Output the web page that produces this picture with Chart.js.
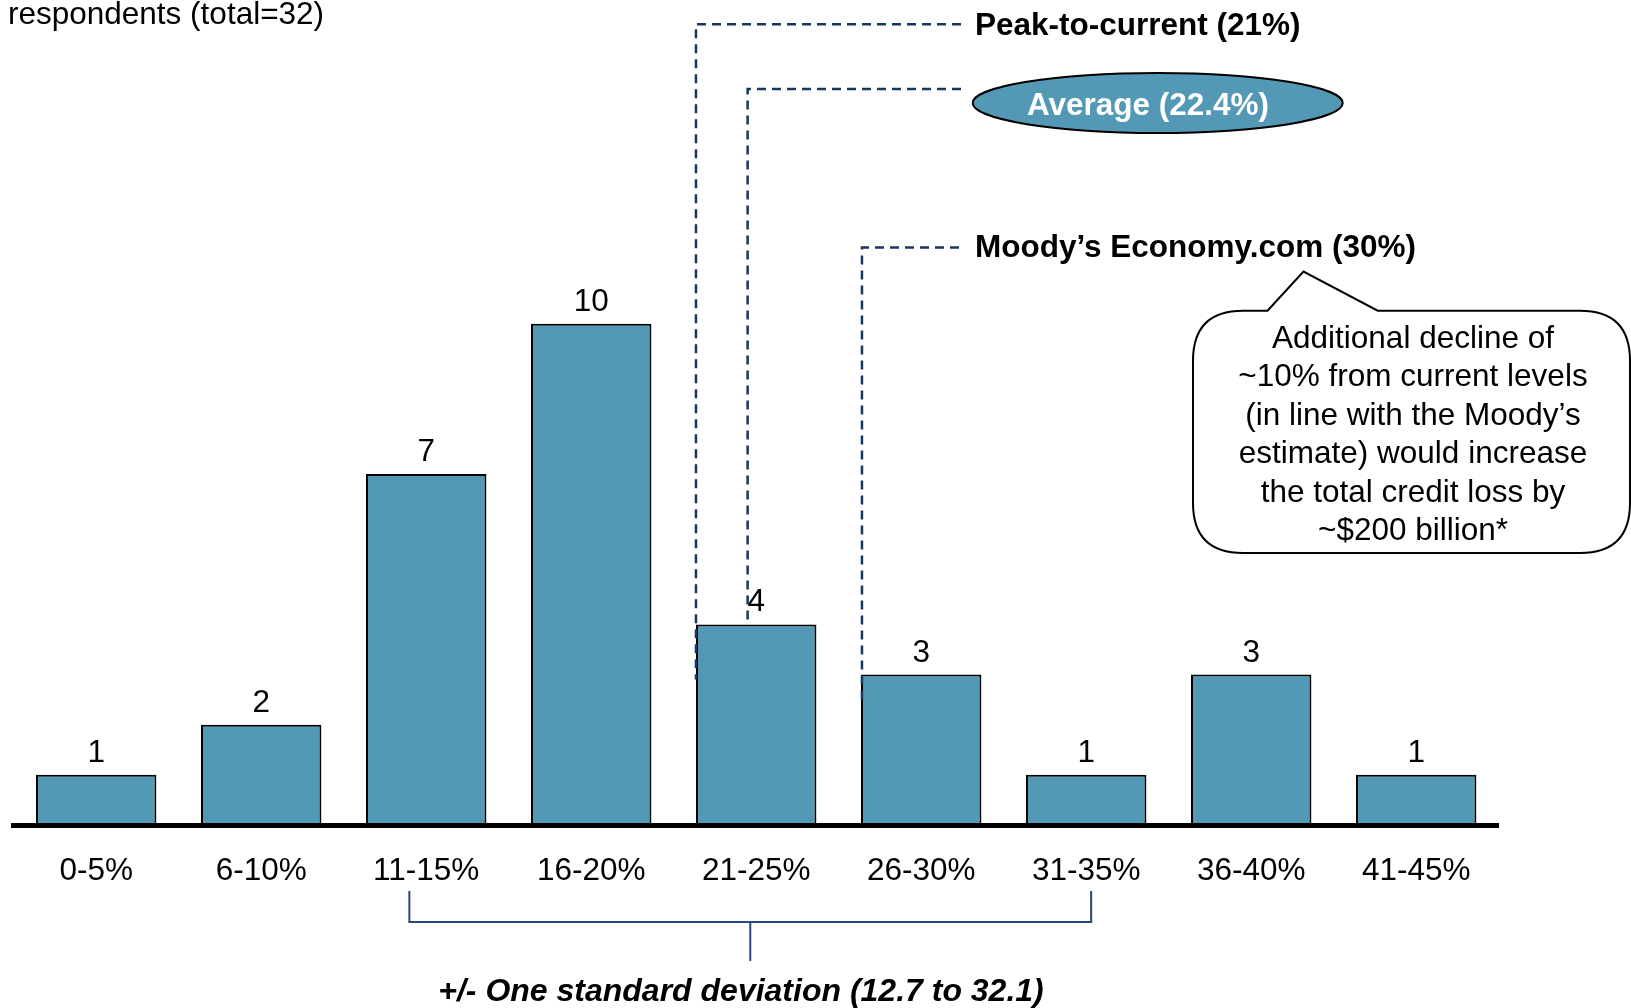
<!DOCTYPE html>
<html>
<head>
<meta charset="utf-8">
<title>Expected decline distribution</title>
<script src="https://cdn.jsdelivr.net/npm/chart.js@4.4.1/dist/chart.umd.min.js"></script>
<style>
  html, body { margin: 0; padding: 0; background: #fff; }
  #wrap { width: 1631px; height: 1008px; }
</style>
</head>
<body>
<div id="wrap"><canvas id="declineChart" width="1631" height="1008"></canvas></div>
<script>
// survey buckets and number of respondents per bucket
const ranges = ['0-5%', '6-10%', '11-15%', '16-20%', '21-25%', '26-30%', '31-35%', '36-40%', '41-45%'];
const respondents = [1, 2, 7, 10, 4, 3, 1, 3, 1];
const yMax = 16;

// reference lines, x given as position on the category axis
const markerLabels = ['Peak-to-current (21%)', 'Average (22.4%)', 'Moody\u2019s Economy.com (30%)'];
const markerPos = [3.635, 3.948, 4.641];
const markerStop = [2.9, 4, 2.45];   // where each leader line ends, in respondents

const stdDevLabel = '+/- One standard deviation (12.7 to 32.1)';
const stdDevSpan = [1.898, 6.03];

const noteLines = [
    'Additional decline of',
    '~10% from current levels',
    '(in line with the Moody\u2019s',
    'estimate) would increase',
    'the total credit loss by',
    '~$200 billion*'
];

const BAR_BLUE = '#5399b6';
const NAVY = '#17375e';
const BRACKET = '#26467e';
const FONT = '"Liberation Sans", Arial, Helvetica, sans-serif';

Chart.defaults.font.family = FONT;
Chart.defaults.color = '#000';

const annotations = {
    id: 'annotations',
    afterDatasetsDraw(chart) {
        // counts above bars
        const ctx = chart.ctx;
        const meta = chart.getDatasetMeta(0);
        ctx.save();
        ctx.font = '31.5px ' + FONT;
        ctx.fillStyle = '#000';
        ctx.textAlign = 'center';
        ctx.textBaseline = 'alphabetic';
        meta.data.forEach((bar, i) => {
            ctx.fillText(String(respondents[i]), bar.x, bar.y - 13);
        });
        ctx.restore();
    },
    afterDraw(chart) {
        const { ctx, scales: { x, y } } = chart;
        ctx.save();

        // axis caption in the corner
        ctx.font = '31.5px ' + FONT;
        ctx.fillStyle = '#000';
        ctx.textBaseline = 'middle';
        ctx.textAlign = 'left';
        ctx.fillText('respondents (total=32)', 8, 15);

        // dashed leaders
        const leaderY = [24.3, 89, 247.6];
        const leaderEnd = [961, 961, 959];
        ctx.strokeStyle = NAVY;
        ctx.lineWidth = 2.5;
        ctx.setLineDash([9, 6]);
        markerPos.forEach((p, i) => {
            const px = x.getPixelForValue(p);
            ctx.beginPath();
            ctx.moveTo(leaderEnd[i], leaderY[i]);
            ctx.lineTo(px, leaderY[i]);
            ctx.lineTo(px, y.getPixelForValue(markerStop[i]));
            ctx.stroke();
        });
        ctx.setLineDash([]);

        // average badge
        ctx.beginPath();
        ctx.ellipse(1157.7, 103, 185, 30, 0, 0, Math.PI * 2);
        ctx.fillStyle = BAR_BLUE;
        ctx.fill();
        ctx.lineWidth = 2;
        ctx.strokeStyle = '#000';
        ctx.stroke();

        ctx.font = 'bold 31.5px ' + FONT;
        ctx.textBaseline = 'middle';
        ctx.fillStyle = '#000';
        ctx.textAlign = 'left';
        ctx.fillText(markerLabels[0], 975, 26.5);
        ctx.fillText(markerLabels[2], 975, 248.5);
        ctx.fillStyle = '#fff';
        ctx.textAlign = 'center';
        ctx.fillText(markerLabels[1], 1148, 106);

        // speech bubble
        const L = 1193, R = 1630, T = 310.7, B = 553, r = 50;
        ctx.beginPath();
        ctx.moveTo(L + r, T);
        ctx.lineTo(1267.5, T);
        ctx.lineTo(1303.5, 271.5);
        ctx.lineTo(1377.7, T);
        ctx.lineTo(R - r, T);
        ctx.quadraticCurveTo(R, T, R, T + r);
        ctx.lineTo(R, B - r);
        ctx.quadraticCurveTo(R, B, R - r, B);
        ctx.lineTo(L + r, B);
        ctx.quadraticCurveTo(L, B, L, B - r);
        ctx.lineTo(L, T + r);
        ctx.quadraticCurveTo(L, T, L + r, T);
        ctx.closePath();
        ctx.fillStyle = '#fff';
        ctx.fill();
        ctx.lineWidth = 2;
        ctx.strokeStyle = '#000';
        ctx.stroke();

        ctx.font = '31.5px ' + FONT;
        ctx.fillStyle = '#000';
        ctx.textAlign = 'center';
        noteLines.forEach((line, i) => {
            ctx.fillText(line, 1413, 339 + i * 38.5);
        });

        // one standard deviation bracket
        const bx0 = x.getPixelForValue(stdDevSpan[0]);
        const bx1 = x.getPixelForValue(stdDevSpan[1]);
        const mid = (bx0 + bx1) / 2;
        ctx.strokeStyle = BRACKET;
        ctx.lineWidth = 2;
        ctx.beginPath();
        ctx.moveTo(bx0, 891);
        ctx.lineTo(bx0, 922);
        ctx.lineTo(bx1, 922);
        ctx.lineTo(bx1, 891);
        ctx.moveTo(mid, 922);
        ctx.lineTo(mid, 961);
        ctx.stroke();

        ctx.font = 'italic bold 32px ' + FONT;
        ctx.fillStyle = '#000';
        ctx.fillText(stdDevLabel, 741, 992);

        ctx.restore();
    }
};

new Chart(document.getElementById('declineChart'), {
    type: 'bar',
    data: {
        labels: ranges,
        datasets: [{
            data: respondents,
            backgroundColor: BAR_BLUE,
            borderColor: '#000',
            borderWidth: 2,
            categoryPercentage: 1,
            barPercentage: 0.73
        }]
    },
    options: {
        responsive: false,
        animation: false,
        layout: {
            padding: { left: 13.7, right: 132.3, top: 22.8, bottom: 90.2 }
        },
        plugins: {
            legend: { display: false },
            tooltip: { enabled: false }
        },
        scales: {
            x: {
                grid: { display: false, drawTicks: false },
                border: { display: true, color: '#000', width: 5, z: 1 },
                ticks: {
                    padding: 27.5,
                    font: { size: 31.5 },
                    color: '#000'
                }
            },
            y: {
                display: false,
                min: 0,
                max: yMax
            }
        }
    },
    plugins: [annotations]
});
</script>
</body>
</html>
